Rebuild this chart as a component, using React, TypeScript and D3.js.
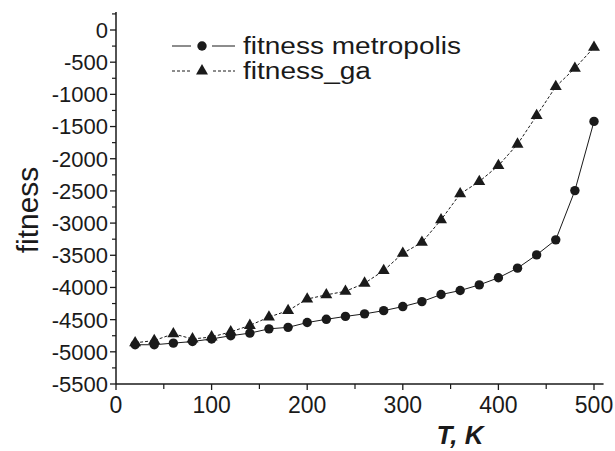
import React from "react";
import * as d3 from "d3";

const temps = [20, 40, 60, 80, 100, 120, 140, 160, 180, 200, 220, 240, 260, 280, 300, 320, 340, 360, 380, 400, 420, 440, 460, 480, 500];
const fitnessMetropolis = [-4890, -4890, -4865, -4840, -4800, -4750, -4710, -4643, -4620, -4545, -4495, -4450, -4410, -4360, -4297, -4220, -4110, -4048, -3960, -3850, -3700, -3494, -3260, -2495, -1420];
const fitnessGa = [-4860, -4825, -4720, -4800, -4770, -4690, -4590, -4460, -4360, -4180, -4115, -4060, -3935, -3738, -3470, -3300, -2950, -2546, -2355, -2107, -1775, -1330, -880, -595, -270];
const yTicks = [0, -500, -1000, -1500, -2000, -2500, -3000, -3500, -4000, -4500, -5000, -5500];
const yMinor = [-250, -750, -1250, -1750, -2250, -2750, -3250, -3750, -4250, -4750, -5250, 250];
const xTicks = [0, 100, 200, 300, 400, 500];
const xMinor = [50, 150, 250, 350, 450];
const legendLabels = ["fitness metropolis", "fitness_ga"];

const FONT = "'Liberation Sans', Arial, Helvetica, sans-serif";
const INK = "#1a1a1a";

export default function App() {
  const x = d3.scaleLinear().domain([0, 500]).range([116, 594]);
  const y = d3.scaleLinear().domain([-5500, 0]).range([384, 30]);
  const xEnd = x(510);
  const yTop = y(280);

  const line = d3
    .line<[number, number]>()
    .x((d) => x(d[0]))
    .y((d) => y(d[1]));

  const metroPts: [number, number][] = temps.map((t, i) => [t, fitnessMetropolis[i]]);
  const gaPts: [number, number][] = temps.map((t, i) => [t, fitnessGa[i]]);
  const tri = d3.symbol().type(d3.symbolTriangle).size(62)();

  return (
    <svg width={615} height={451} style={{ position: "absolute", left: 0, top: 0, background: "#fff" }}>
      <rect x={0} y={0} width={615} height={451} fill="#fff" />
      {/* axes */}
      <line x1={116} x2={116} y1={yTop} y2={384} stroke={INK} strokeWidth={1.5} />
      <line x1={116} x2={xEnd} y1={384} y2={384} stroke={INK} strokeWidth={1.5} />
      {yTicks.map((v) => (
        <g key={"yt" + v}>
          <line x1={110} x2={116} y1={y(v)} y2={y(v)} stroke={INK} strokeWidth={1.3} />
          <text x={108} y={y(v)} dy="0.36em" textAnchor="end" fontFamily={FONT} fontSize={22} fill={INK}>
            {v}
          </text>
        </g>
      ))}
      {yMinor.map((v) => (
        <line key={"ym" + v} x1={112} x2={116} y1={y(v)} y2={y(v)} stroke={INK} strokeWidth={1.2} />
      ))}
      {xTicks.map((v) => (
        <g key={"xt" + v}>
          <line x1={x(v)} x2={x(v)} y1={384} y2={390} stroke={INK} strokeWidth={1.3} />
          <text x={x(v)} y={413} textAnchor="middle" fontFamily={FONT} fontSize={23} fill={INK}>
            {v}
          </text>
        </g>
      ))}
      {xMinor.map((v) => (
        <line key={"xm" + v} x1={x(v)} x2={x(v)} y1={384} y2={389} stroke={INK} strokeWidth={1.2} />
      ))}
      {/* axis titles */}
      <text
        transform={`translate(38,${210}) rotate(-90)`}
        textAnchor="middle"
        fontFamily={FONT}
        fontSize={30}
        fill={INK}
      >
        fitness
      </text>
      <text x={460} y={444} textAnchor="middle" fontFamily={FONT} fontSize={26} fontWeight="bold" fontStyle="italic" fill={INK}>
        T, K
      </text>
      {/* series */}
      <path d={line(gaPts) || ""} fill="none" stroke={INK} strokeWidth={1} strokeDasharray="3,2" />
      <path d={line(metroPts) || ""} fill="none" stroke={INK} strokeWidth={1} />
      {metroPts.map((p, i) => (
        <circle key={"m" + i} cx={x(p[0])} cy={y(p[1])} r={4.7} fill={INK} />
      ))}
      {gaPts.map((p, i) => (
        <path key={"g" + i} d={tri || ""} transform={`translate(${x(p[0])},${y(p[1])})`} fill={INK} />
      ))}
      {/* legend */}
      <line x1={172} x2={191} y1={46} y2={46} stroke={INK} strokeWidth={1} />
      <line x1={212} x2={235} y1={46} y2={46} stroke={INK} strokeWidth={1} />
      <circle cx={202} cy={46} r={4.7} fill={INK} />
      <text x={243} y={46} dy="0.36em" fontFamily={FONT} fontSize={23} textLength={218} lengthAdjust="spacingAndGlyphs" fill={INK}>
        {legendLabels[0]}
      </text>
      <line x1={172} x2={192} y1={71} y2={71} stroke={INK} strokeWidth={1} strokeDasharray="3,2" />
      <line x1={213} x2={235} y1={71} y2={71} stroke={INK} strokeWidth={1} strokeDasharray="3,2" />
      <path d={tri || ""} transform={`translate(202,71)`} fill={INK} />
      <text x={243} y={71} dy="0.36em" fontFamily={FONT} fontSize={23} textLength={128} lengthAdjust="spacingAndGlyphs" fill={INK}>
        {legendLabels[1]}
      </text>
    </svg>
  );
}
